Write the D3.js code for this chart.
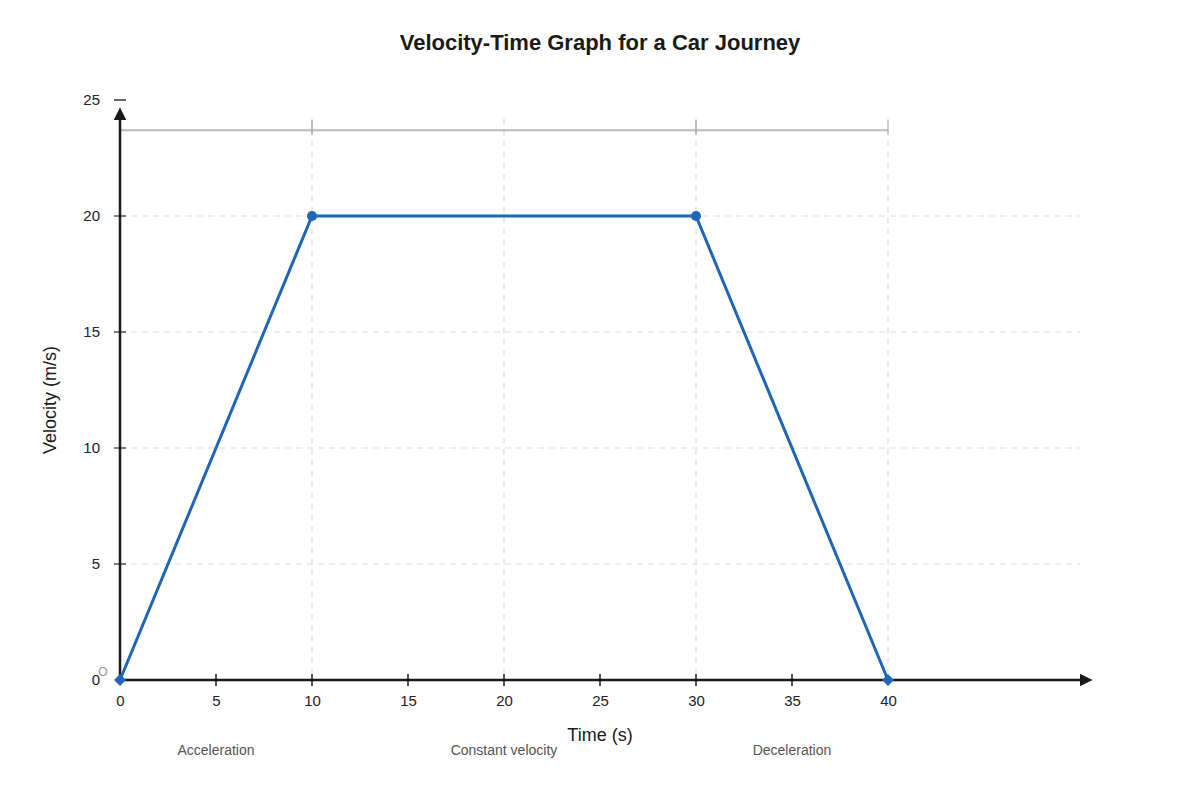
<!DOCTYPE html>
<html><head><meta charset="utf-8">
<script src="https://cdn.jsdelivr.net/npm/d3@7"></script>
<style>body{margin:0;background:#fff;font-family:"Liberation Sans",Arial,sans-serif;}</style>
</head><body>
<svg id="c" width="1200" height="800"></svg>
<script>
const times = [0, 10, 30, 40];
const velocities = [0, 20, 20, 0];
const xTicks = [0, 5, 10, 15, 20, 25, 30, 35, 40];
const yTicks = [0, 5, 10, 15, 20, 25];
const phaseNames = ["Acceleration", "Constant velocity", "Deceleration"];
const phaseCenters = [5, 20, 35];
const phaseBounds = [0, 10, 30, 40];
const bracketLevel = 23.7;
const title = "Velocity-Time Graph for a Car Journey";
const xLabel = "Time (s)";
const yLabel = "Velocity (m/s)";

const svg = d3.select("#c");
const x = d3.scaleLinear().domain([0, 40]).range([120, 888]);
const y = d3.scaleLinear().domain([0, 25]).range([680, 100]);
const font = '"Liberation Sans",Arial,sans-serif';

svg.append("text").attr("x", 600).attr("y", 50).attr("text-anchor", "middle")
  .attr("font-family", font).attr("font-size", 22).attr("font-weight", "bold").attr("fill", "#1a1a1a").text(title);

// horizontal gridlines
svg.append("g").selectAll("line").data(yTicks.filter(d => d > 0 && d < 25)).join("line")
  .attr("x1", x(0)).attr("x2", x(50)).attr("y1", d => y(d)).attr("y2", d => y(d))
  .attr("stroke", "#ddd").attr("stroke-width", 1.2).attr("stroke-dasharray", "6,5");
// vertical gridlines
svg.append("g").selectAll("line").data(xTicks.filter(d => d > 0 && d % 10 === 0)).join("line")
  .attr("x1", d => x(d)).attr("x2", d => x(d)).attr("y1", y(24.2)).attr("y2", y(0))
  .attr("stroke", "#ddd").attr("stroke-width", 1.2).attr("stroke-dasharray", "6,5");

// bracket line
svg.append("line").attr("x1", x(0)).attr("x2", x(40)).attr("y1", y(bracketLevel)).attr("y2", y(bracketLevel))
  .attr("stroke", "#bbb").attr("stroke-width", 2);
svg.append("g").selectAll("line").data(phaseBounds.slice(1)).join("line")
  .attr("x1", d => x(d)).attr("x2", d => x(d)).attr("y1", y(bracketLevel) - 10).attr("y2", y(bracketLevel) + 4)
  .attr("stroke", "#aaa").attr("stroke-width", d => d === 40 ? 1 : 1.5);

// axes
const defs = svg.append("defs");
defs.append("marker").attr("id", "arr").attr("viewBox", "0 0 10 10").attr("refX", 0).attr("refY", 5)
  .attr("markerWidth", 5).attr("markerHeight", 5).attr("markerUnits", "strokeWidth").attr("orient", "auto")
  .append("path").attr("d", "M0,0 L10,5 L0,10 Z").attr("fill", "#1a1a1a");

const xAxis = svg.append("g").attr("transform", `translate(0,${y(0)})`)
  .call(d3.axisBottom(x).tickValues(xTicks).tickSize(0).tickPadding(15));
xAxis.select(".domain").remove();
xAxis.selectAll("text").attr("font-family", font).attr("font-size", 15).attr("fill", "#222");
svg.append("g").selectAll("line").data(xTicks.filter(d => d > 0 && d < 40)).join("line")
  .attr("x1", d => x(d)).attr("x2", d => x(d)).attr("y1", y(0) - 6).attr("y2", y(0) + 6)
  .attr("stroke", "#1a1a1a").attr("stroke-width", 1.5);

const yAxis = svg.append("g").attr("transform", `translate(${x(0) - 20},0)`)
  .call(d3.axisLeft(y).tickValues(yTicks).tickSize(0).tickPadding(0));
yAxis.select(".domain").remove();
yAxis.selectAll("text").attr("font-family", font).attr("font-size", 15).attr("fill", "#222");
svg.append("g").selectAll("line").data(yTicks.filter(d => d > 0)).join("line")
  .attr("x1", x(0) - 6).attr("x2", x(0) + 6).attr("y1", d => y(d)).attr("y2", d => y(d))
  .attr("stroke", d => d === 25 ? "#333" : "#555").attr("stroke-width", 1.5);

svg.append("line").attr("x1", x(0)).attr("x2", 1080).attr("y1", y(0)).attr("y2", y(0))
  .attr("stroke", "#1a1a1a").attr("stroke-width", 2.5).attr("marker-end", "url(#arr)");
svg.append("line").attr("x1", x(0)).attr("y1", y(0)).attr("x2", x(0)).attr("y2", 120)
  .attr("stroke", "#1a1a1a").attr("stroke-width", 2.5).attr("marker-end", "url(#arr)");

svg.append("text").attr("x", 103).attr("y", 676).attr("text-anchor", "middle")
  .attr("font-family", font).attr("font-size", 12).attr("fill", "#999").text("O");

// axis labels
svg.append("text").attr("x", 600).attr("y", 741).attr("text-anchor", "middle")
  .attr("font-family", font).attr("font-size", 18).attr("fill", "#1a1a1a").text(xLabel);
svg.append("text").attr("transform", "translate(56,400) rotate(-90)").attr("text-anchor", "middle")
  .attr("font-family", font).attr("font-size", 18).attr("fill", "#1a1a1a").text(yLabel);

// phase labels
svg.append("g").selectAll("text").data(phaseNames).join("text")
  .attr("x", (d, i) => x(phaseCenters[i])).attr("y", 755).attr("text-anchor", "middle")
  .attr("font-family", font).attr("font-size", 14).attr("fill", "#555").text(d => d);

// data line
const pts = times.map((t, i) => [t, velocities[i]]);
svg.append("path").datum(pts)
  .attr("d", d3.line().x(d => x(d[0])).y(d => y(d[1])))
  .attr("fill", "none").attr("stroke", "#1f65b8").attr("stroke-width", 3);
svg.append("g").selectAll("path").data(pts).join("path")
  .attr("transform", d => `translate(${x(d[0])},${y(d[1])})` + (d[1] === 0 ? " rotate(45)" : ""))
  .attr("d", d => d[1] === 0 ? d3.symbol(d3.symbolSquare, 70)() : d3.symbol(d3.symbolCircle, 80)())
  .attr("fill", "#1f65b8");
</script>
</body></html>
